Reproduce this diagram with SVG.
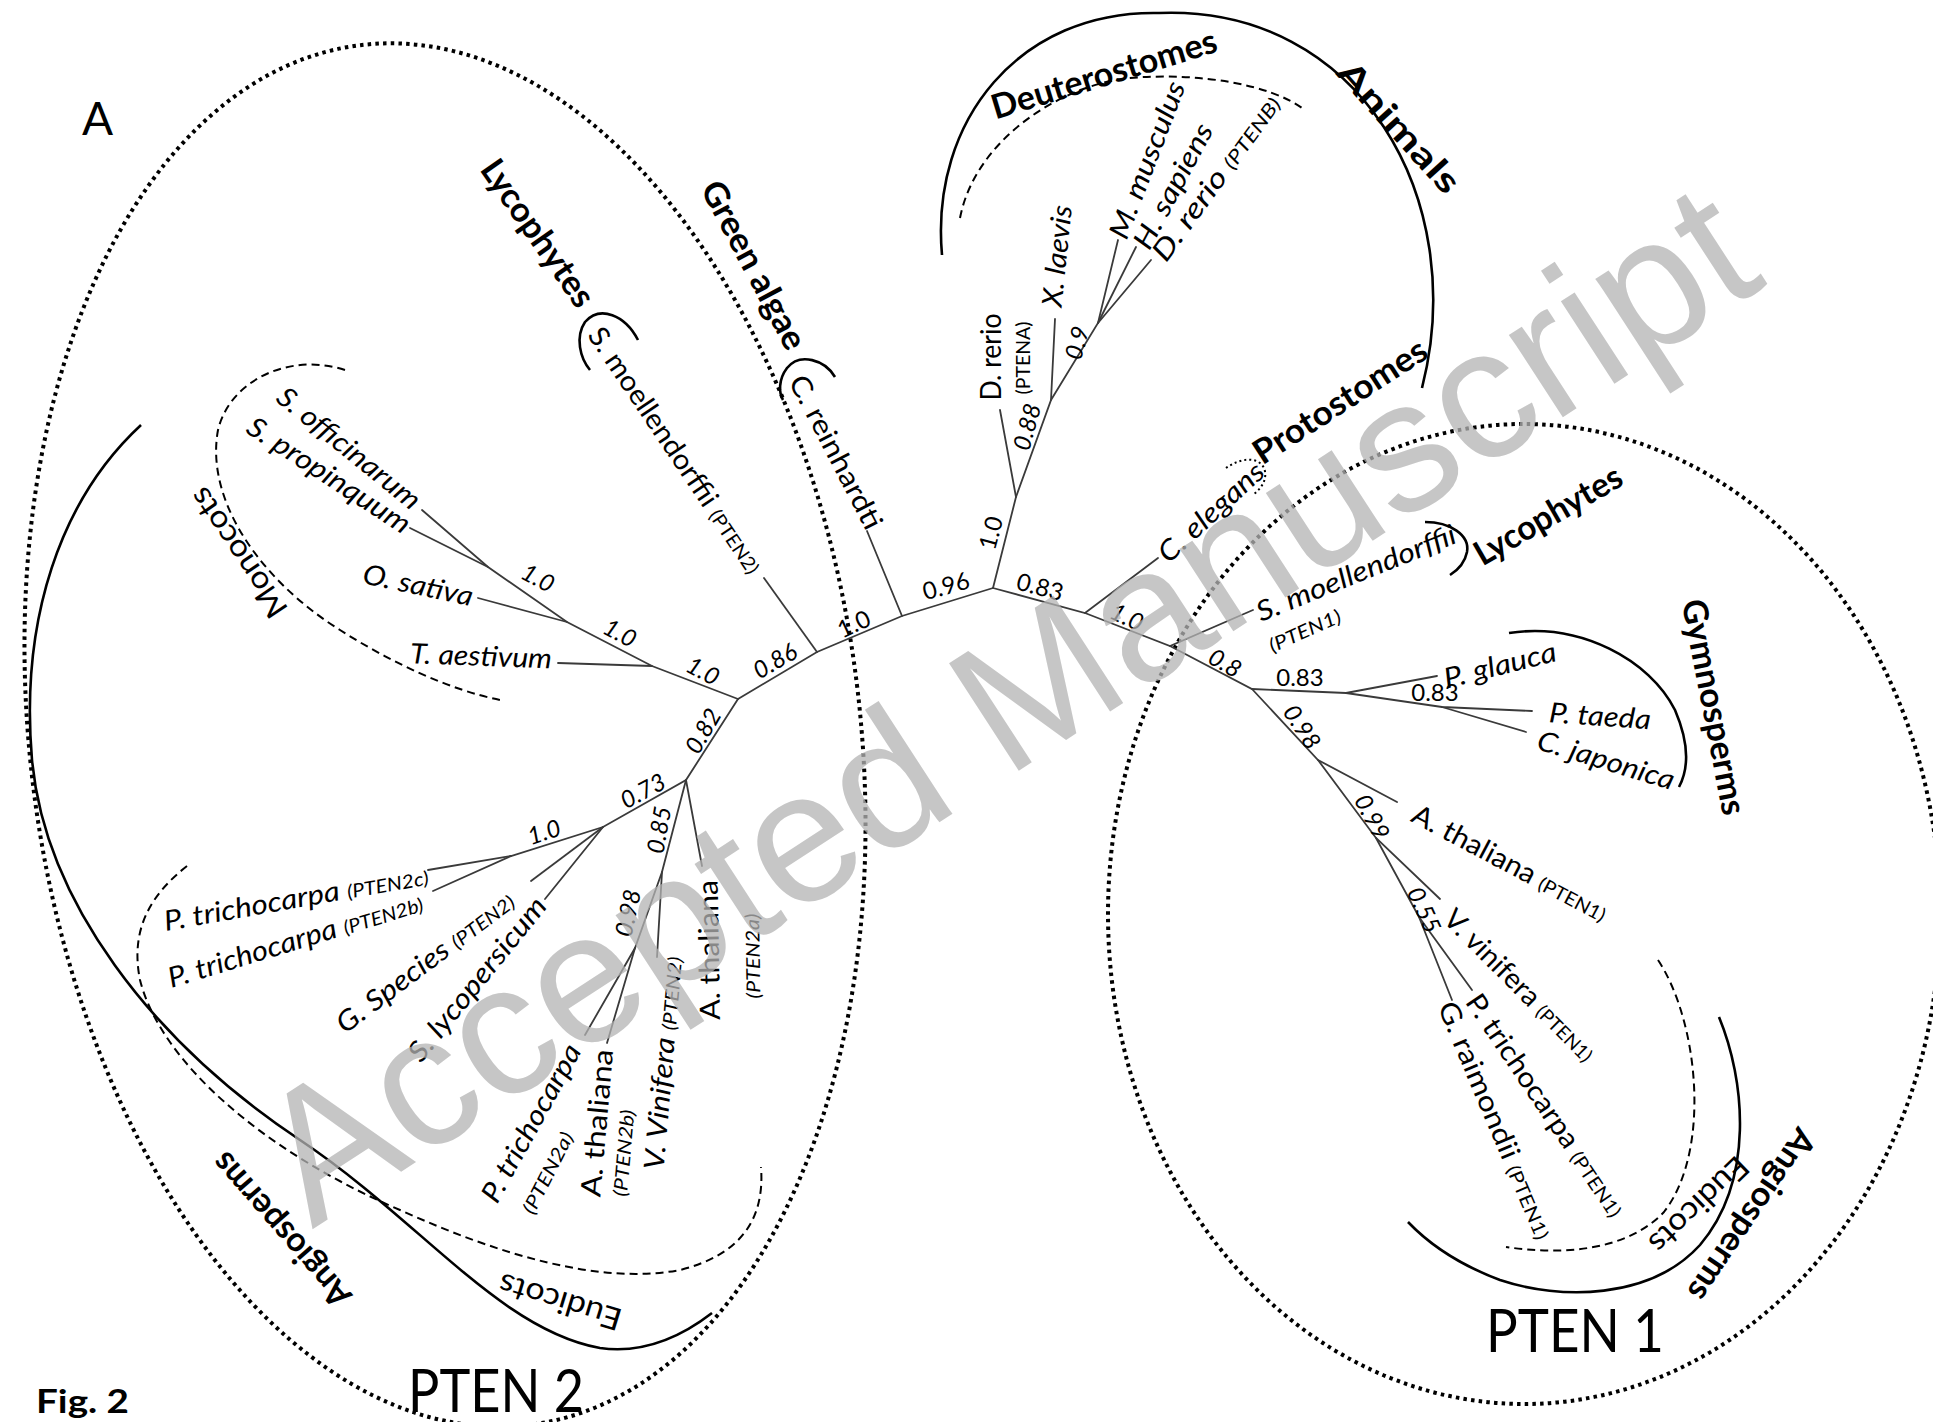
<svg xmlns="http://www.w3.org/2000/svg" width="1933" height="1422" viewBox="0 0 1933 1422">
<style>
.br{stroke:#3a3a3a;stroke-width:1.8;fill:none;stroke-linecap:round}
.arc{stroke:#000;stroke-width:2.6;fill:none}
.dash{stroke:#000;stroke-width:2;fill:none;stroke-dasharray:8 5}
.dot{stroke:#000;stroke-width:4;fill:none;stroke-dasharray:3.5 4.2}
.sdot{stroke:#000;stroke-width:2;fill:none;stroke-dasharray:2 3}
text{font-family:Lato,"Open Sans",sans-serif;fill:#000}
.sp{font-size:28px;font-style:italic}
.spr{font-size:28px}
.tag{font-size:19px}
.bs{font-size:24px}
.bsi{font-size:24px;font-style:italic}
.grp{font-size:34px;font-weight:bold}
.sub{font-size:31px}
.big{font-size:60px}
.wm{font-family:"Liberation Sans",Arial,sans-serif;font-size:186px;fill:#b4b4b4;opacity:0.75}
</style>
<rect width="1933" height="1422" fill="#fff"/>

<g id="enclosures">
<ellipse class="dot" cx="445" cy="735" rx="415" ry="695" transform="rotate(-7 445 735)"/>
<ellipse class="dot" cx="1524" cy="914" rx="416" ry="490"/>
<path class="arc" d="M942,255 C930,120 1020,10 1159,13 C1360,5 1470,200 1422,388"/>
<path class="dash" d="M960,218 C975,140 1060,85 1130,78 C1200,72 1270,85 1302,108"/>
<path class="arc" d="M141,425 C60,500 20,620 32,760 C45,900 150,1040 300,1140 C420,1220 500,1330 600,1348 C650,1355 690,1330 712,1313"/>
<path class="dash" d="M187,866 C150,895 130,930 140,980 C160,1060 260,1150 400,1210 C500,1255 600,1285 680,1270 C740,1255 765,1220 761,1167"/>
<path class="dash" d="M345,370 C290,352 230,380 218,430 C205,500 260,580 340,630 C390,662 450,690 500,700"/>
<path class="arc" d="M638,340 C625,315 600,305 585,322 C575,337 580,358 590,370"/>
<path class="arc" d="M835,377 C825,360 800,352 787,368 C778,380 779,393 783,400"/>
<path class="arc" d="M1509,633 C1580,622 1650,660 1675,710 C1690,745 1688,770 1679,787"/>
<path class="arc" d="M1425,522 C1450,522 1470,535 1467,552 C1465,562 1458,570 1450,575"/>
<path class="sdot" d="M1226,468 C1240,458 1258,456 1264,468 C1268,478 1262,488 1254,494"/>
<path class="arc" d="M1719,1017 C1745,1080 1755,1180 1700,1245 C1650,1300 1560,1300 1500,1280 C1460,1265 1430,1245 1408,1222"/>
<path class="dash" d="M1658,960 C1698,1020 1712,1150 1664,1212 C1626,1252 1560,1255 1506,1247"/>
</g>

<g id="connectors">
<polyline class="br" points="738,699 817,652 902,616 993,588"/>
<line class="br" x1="817" y1="652" x2="764" y2="578"/>
<line class="br" x1="902" y1="616" x2="867" y2="531"/>
<polyline class="br" points="738,699 652,666 567,622 488,567 422,510"/>
<line class="br" x1="488" y1="567" x2="410" y2="528"/>
<line class="br" x1="567" y1="622" x2="478" y2="598"/>
<line class="br" x1="652" y1="666" x2="558" y2="663"/>
<polyline class="br" points="738,699 686,780 603,827 511,856 428,870"/>
<line class="br" x1="511" y1="856" x2="433" y2="891"/>
<line class="br" x1="603" y1="827" x2="531" y2="881"/>
<line class="br" x1="603" y1="827" x2="545" y2="899"/>
<polyline class="br" points="686,780 662,872 657,957"/>
<polyline class="br" points="662,872 635,948 585,1035"/>
<line class="br" x1="635" y1="948" x2="607" y2="1043"/>
<line class="br" x1="686" y1="780" x2="702" y2="866"/>
<polyline class="br" points="993,588 1016,497 1000,410"/>
<polyline class="br" points="1016,497 1051,400 1055,319"/>
<polyline class="br" points="1051,400 1098,323 1118,240"/>
<line class="br" x1="1098" y1="323" x2="1136" y2="247"/>
<line class="br" x1="1098" y1="323" x2="1151" y2="260"/>
<polyline class="br" points="993,588 1085,613 1158,558"/>
<polyline class="br" points="1085,613 1170,646 1253,610"/>
<polyline class="br" points="1170,646 1252,689 1346,693 1437,676"/>
<polyline class="br" points="1346,693 1442,707 1532,711"/>
<line class="br" x1="1442" y1="707" x2="1526" y2="732"/>
<polyline class="br" points="1252,689 1318,760 1397,802"/>
<polyline class="br" points="1318,760 1376,838 1440,899"/>
<polyline class="br" points="1376,838 1419,917 1472,990"/>
<line class="br" x1="1419" y1="917" x2="1452" y2="1000"/>
</g>

<g id="support">
<text class="bsi" transform="translate(538,578) rotate(28)" text-anchor="middle" dy="0.35em">1.0</text>
<text class="bsi" transform="translate(620,633) rotate(28)" text-anchor="middle" dy="0.35em">1.0</text>
<text class="bsi" transform="translate(703,671) rotate(28)" text-anchor="middle" dy="0.35em">1.0</text>
<text class="bsi" transform="translate(775,661) rotate(-30)" text-anchor="middle" dy="0.35em">0.86</text>
<text class="bs" transform="translate(854,624) rotate(-25)" text-anchor="middle" dy="0.35em">1.0</text>
<text class="bs" transform="translate(946,586) rotate(-15)" text-anchor="middle" dy="0.35em">0.96</text>
<text class="bs" transform="translate(991,533) rotate(-75)" text-anchor="middle" dy="0.35em">1.0</text>
<text class="bsi" transform="translate(1027,427) rotate(-75)" text-anchor="middle" dy="0.35em">0.88</text>
<text class="bsi" transform="translate(1077,343) rotate(-75)" text-anchor="middle" dy="0.35em">0.9</text>
<text class="bs" transform="translate(1040,587) rotate(15)" text-anchor="middle" dy="0.35em">0.83</text>
<text class="bsi" transform="translate(1127,617) rotate(25)" text-anchor="middle" dy="0.35em">1.0</text>
<text class="bsi" transform="translate(1225,663) rotate(30)" text-anchor="middle" dy="0.35em">0.8</text>
<text class="bs" transform="translate(1300,678)" text-anchor="middle" dy="0.35em">0.83</text>
<text class="bs" transform="translate(1435,693)" text-anchor="middle" dy="0.35em">0.83</text>
<text class="bsi" transform="translate(1302,727) rotate(57)" text-anchor="middle" dy="0.35em">0.98</text>
<text class="bsi" transform="translate(1372,817) rotate(62)" text-anchor="middle" dy="0.35em">0.99</text>
<text class="bsi" transform="translate(1424,910) rotate(65)" text-anchor="middle" dy="0.35em">0.55</text>
<text class="bsi" transform="translate(703,731) rotate(-60)" text-anchor="middle" dy="0.35em">0.82</text>
<text class="bsi" transform="translate(643,791) rotate(-28)" text-anchor="middle" dy="0.35em">0.73</text>
<text class="bsi" transform="translate(544,832) rotate(-18)" text-anchor="middle" dy="0.35em">1.0</text>
<text class="bsi" transform="translate(659,830) rotate(-80)" text-anchor="middle" dy="0.35em">0.85</text>
<text class="bsi" transform="translate(628,913) rotate(-78)" text-anchor="middle" dy="0.35em">0.98</text>
</g>

<g id="n-A"><text x="82" y="135" font-size="46">A</text></g>
<g id="n-lyco2"><text class="grp" transform="translate(538,233) rotate(55)" text-anchor="middle" dy="0.35em" textLength="172" lengthAdjust="spacingAndGlyphs">Lycophytes</text></g>
<g id="n-smoel2"><text class="spr" transform="translate(676,450) rotate(56)" text-anchor="middle" dy="0.35em" textLength="290" lengthAdjust="spacingAndGlyphs">S. moellendorffii <tspan class="tag">(PTEN2)</tspan></text></g>
<g id="n-green"><text class="grp" transform="translate(754,265) rotate(62)" text-anchor="middle" dy="0.35em" textLength="186" lengthAdjust="spacingAndGlyphs">Green algae</text></g>
<g id="n-crein"><text class="spr" transform="translate(836,452) rotate(62.5)" text-anchor="middle" dy="0.35em" textLength="170" lengthAdjust="spacingAndGlyphs">C. reinhardti</text></g>
<g id="n-soff"><text class="sp" transform="translate(349,448) rotate(39)" text-anchor="middle" dy="0.35em" textLength="176" lengthAdjust="spacingAndGlyphs">S. officinarum</text></g>
<g id="n-sprop"><text class="sp" transform="translate(329,475) rotate(33)" text-anchor="middle" dy="0.35em" textLength="189" lengthAdjust="spacingAndGlyphs">S. propinquum</text></g>
<g id="n-osat"><text class="sp" transform="translate(418,585) rotate(12)" text-anchor="middle" dy="0.35em" textLength="112" lengthAdjust="spacingAndGlyphs">O. sativa</text></g>
<g id="n-taes"><text class="sp" transform="translate(481,656) rotate(2)" text-anchor="middle" dy="0.35em" textLength="142" lengthAdjust="spacingAndGlyphs">T. aestivum</text></g>
<g id="n-mono"><text class="sub" transform="translate(238,553) rotate(-124)" text-anchor="middle" dy="0.35em" textLength="150" lengthAdjust="spacingAndGlyphs">Monocots</text></g>
<g id="n-ptri2c"><text class="sp" transform="translate(296,898) rotate(-10)" text-anchor="middle" dy="0.35em" textLength="268" lengthAdjust="spacingAndGlyphs">P. trichocarpa <tspan class="tag">(PTEN2c)</tspan></text></g>
<g id="n-ptri2b"><text class="sp" transform="translate(295,940) rotate(-17)" text-anchor="middle" dy="0.35em" textLength="265" lengthAdjust="spacingAndGlyphs">P. trichocarpa <tspan class="tag">(PTEN2b)</tspan></text></g>
<g id="n-gsp"><text class="sp" transform="translate(425,962) rotate(-37)" text-anchor="middle" dy="0.35em" textLength="215" lengthAdjust="spacingAndGlyphs">G. Species  <tspan class="tag">(PTEN2)</tspan></text></g>
<g id="n-slyc"><text class="sp" transform="translate(477,979) rotate(-51)" text-anchor="middle" dy="0.35em" textLength="202" lengthAdjust="spacingAndGlyphs">S. lycopersicum</text></g>
<g id="n-ptri2a">
<text class="sp" transform="translate(531,1123) rotate(-61)" text-anchor="middle" dy="0.35em" textLength="176" lengthAdjust="spacingAndGlyphs">P. trichocarpa</text>
<text class="tag" font-style="italic" transform="translate(548,1173) rotate(-63)" text-anchor="middle" dy="0.35em" textLength="89" lengthAdjust="spacingAndGlyphs">(PTEN2a)</text>
</g>
<g id="n-atha2b">
<text class="spr" transform="translate(597,1123) rotate(-85)" text-anchor="middle" dy="0.35em" textLength="148" lengthAdjust="spacingAndGlyphs">A. thaliana</text>
<text class="tag" font-style="italic" transform="translate(624,1153) rotate(-85)" text-anchor="middle" dy="0.35em" textLength="87" lengthAdjust="spacingAndGlyphs">(PTEN2b)</text>
</g>
<g id="n-vvin2"><text class="sp" transform="translate(663,1063) rotate(-85)" text-anchor="middle" dy="0.35em" textLength="214" lengthAdjust="spacingAndGlyphs">V. Vinifera <tspan class="tag">(PTEN2)</tspan></text></g>
<g id="n-atha2a">
<text class="spr" transform="translate(709,950) rotate(-91)" text-anchor="middle" dy="0.35em" textLength="140" lengthAdjust="spacingAndGlyphs">A. thaliana</text>
<text class="tag" font-style="italic" transform="translate(753,956) rotate(-91)" text-anchor="middle" dy="0.35em" textLength="85" lengthAdjust="spacingAndGlyphs">(PTEN2a)</text>
</g>
<g id="n-angio2"><text class="grp" transform="translate(281,1230) rotate(-131)" text-anchor="middle" dy="0.35em" textLength="193" lengthAdjust="spacingAndGlyphs">Angiosperms</text></g>
<g id="n-eudi2"><text class="sub" transform="translate(560,1302) rotate(-163)" text-anchor="middle" dy="0.35em" textLength="127" lengthAdjust="spacingAndGlyphs">Eudicots</text></g>
<g id="n-pten2"><text class="big" x="496" y="1412" text-anchor="middle" textLength="176" lengthAdjust="spacingAndGlyphs">PTEN 2</text></g>
<g id="n-fig"><text x="36" y="1413" font-size="32" font-weight="bold" textLength="93" lengthAdjust="spacingAndGlyphs">Fig. 2</text></g>

<g id="n-drerA">
<text class="spr" transform="translate(991,357) rotate(-90)" text-anchor="middle" dy="0.35em" textLength="87" lengthAdjust="spacingAndGlyphs">D. rerio</text>
<text class="tag" transform="translate(1023,358) rotate(-90)" text-anchor="middle" dy="0.35em" textLength="73" lengthAdjust="spacingAndGlyphs">(PTENA)</text>
</g>
<g id="n-xlae"><text class="sp" transform="translate(1057,256) rotate(-84)" text-anchor="middle" dy="0.35em" textLength="102" lengthAdjust="spacingAndGlyphs">X. laevis</text></g>
<g id="n-mmus"><text class="sp" transform="translate(1147,160) rotate(-69)" text-anchor="middle" dy="0.35em" textLength="166" lengthAdjust="spacingAndGlyphs">M. musculus</text></g>
<g id="n-hsap"><text class="sp" transform="translate(1173,186) rotate(-62)" text-anchor="middle" dy="0.35em" textLength="138" lengthAdjust="spacingAndGlyphs">H. sapiens</text></g>
<g id="n-drerB"><text class="sp" transform="translate(1216,178) rotate(-54)" text-anchor="middle" dy="0.35em" textLength="197" lengthAdjust="spacingAndGlyphs">D. rerio <tspan class="tag">(PTENB)</tspan></text></g>
<g id="n-deut"><text class="grp" transform="translate(1104,74) rotate(-17)" text-anchor="middle" dy="0.35em" textLength="234" lengthAdjust="spacingAndGlyphs">Deuterostomes</text></g>
<g id="n-anim"><text class="grp" font-size="42" transform="translate(1399,127) rotate(48)" text-anchor="middle" dy="0.35em" textLength="165" lengthAdjust="spacingAndGlyphs">Animals</text></g>
<g id="n-prot"><text class="grp" transform="translate(1340,401) rotate(-33)" text-anchor="middle" dy="0.35em" textLength="200" lengthAdjust="spacingAndGlyphs">Protostomes</text></g>
<g id="n-cele"><text class="sp" transform="translate(1211,512) rotate(-42.5)" text-anchor="middle" dy="0.35em" textLength="133" lengthAdjust="spacingAndGlyphs">C. elegans</text></g>
<g id="n-smoel1">
<text class="sp" transform="translate(1356,573) rotate(-22)" text-anchor="middle" dy="0.35em" textLength="213" lengthAdjust="spacingAndGlyphs">S. moellendorffii</text>
<text class="tag" font-style="italic" transform="translate(1305,631) rotate(-24)" text-anchor="middle" dy="0.35em" textLength="77" lengthAdjust="spacingAndGlyphs">(PTEN1)</text>
</g>
<g id="n-lyco1"><text class="grp" transform="translate(1548,515) rotate(-30)" text-anchor="middle" dy="0.35em" textLength="165" lengthAdjust="spacingAndGlyphs">Lycophytes</text></g>
<g id="n-pgla"><text class="sp" transform="translate(1500,665) rotate(-14)" text-anchor="middle" dy="0.35em" textLength="115" lengthAdjust="spacingAndGlyphs">P. glauca</text></g>
<g id="n-ptae"><text class="sp" transform="translate(1600,716) rotate(4)" text-anchor="middle" dy="0.35em" textLength="102" lengthAdjust="spacingAndGlyphs">P. taeda</text></g>
<g id="n-cjap"><text class="sp" transform="translate(1606,760) rotate(17)" text-anchor="middle" dy="0.35em" textLength="142" lengthAdjust="spacingAndGlyphs">C. japonica</text></g>
<g id="n-gymno"><text class="grp" transform="translate(1714,707) rotate(79)" text-anchor="middle" dy="0.35em" textLength="219" lengthAdjust="spacingAndGlyphs">Gymnosperms</text></g>
<g id="n-atha1"><text class="spr" transform="translate(1510,863) rotate(28)" text-anchor="middle" dy="0.35em" textLength="217" lengthAdjust="spacingAndGlyphs">A. thaliana <tspan class="tag">(PTEN1)</tspan></text></g>
<g id="n-vvin1"><text class="spr" transform="translate(1520,985) rotate(45)" text-anchor="middle" dy="0.35em" textLength="202" lengthAdjust="spacingAndGlyphs">V. vinifera <tspan class="tag">(PTEN1)</tspan></text></g>
<g id="n-ptri1"><text class="spr" transform="translate(1546,1105) rotate(56)" text-anchor="middle" dy="0.35em" textLength="262" lengthAdjust="spacingAndGlyphs">P. trichocarpa <tspan class="tag">(PTEN1)</tspan></text></g>
<g id="n-grai1"><text class="spr" transform="translate(1496,1120) rotate(67)" text-anchor="middle" dy="0.35em" textLength="255" lengthAdjust="spacingAndGlyphs">G. raimondii  <tspan class="tag">(PTEN1)</tspan></text></g>
<g id="n-eudi1"><text class="sub" transform="translate(1699,1205) rotate(136)" text-anchor="middle" dy="0.35em" textLength="125" lengthAdjust="spacingAndGlyphs">Eudicots</text></g>
<g id="n-angio1"><text class="grp" transform="translate(1752,1215) rotate(124)" text-anchor="middle" dy="0.35em" textLength="200" lengthAdjust="spacingAndGlyphs">Angiosperms</text></g>
<g id="n-pten1"><text class="big" x="1575" y="1352" text-anchor="middle" textLength="178" lengthAdjust="spacingAndGlyphs">PTEN 1</text></g>

<g id="watermark"><text class="wm" transform="translate(1005,702) rotate(-33)" text-anchor="middle" dy="0.35em">Accepted Manuscript</text></g>
</svg>
